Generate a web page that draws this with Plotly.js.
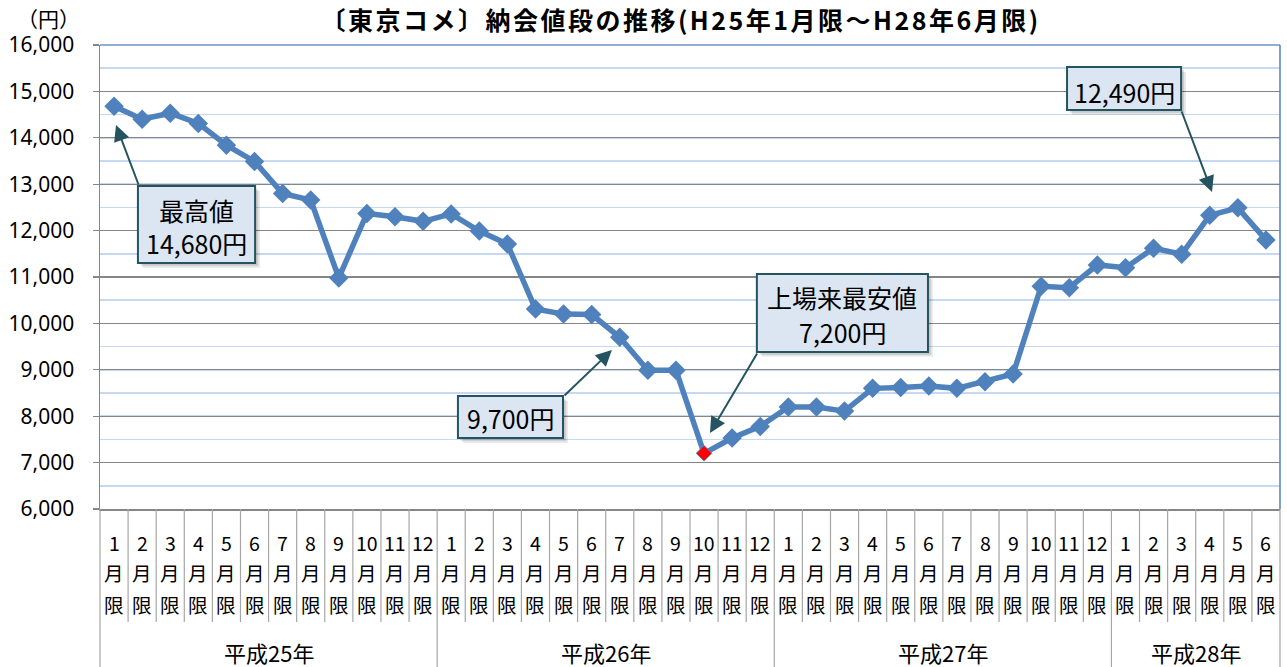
<!DOCTYPE html>
<html>
<head>
<meta charset="utf-8">
<script src="https://cdn.plot.ly/plotly-3.0.1.min.js"></script>
<style>
html,body{margin:0;padding:0;background:#fff;}
#chart{width:1287px;height:667px;}
.gtitle{letter-spacing:2.5px;}
</style>
</head>
<body>
<div id="chart"></div>
<script>
// ---------------- data ----------------
const years = ['平成25年', '平成26年', '平成27年', '平成28年'];
const monthsPerYear = [12, 12, 12, 6];
const monthLabels = ['1','2','3','4','5','6','7','8','9','10','11','12'];
const prices2013 = [14680, 14400, 14530, 14310, 13840, 13490, 12800, 12660, 10980, 12370, 12300, 12200];
const prices2014 = [12360, 11990, 11710, 10310, 10200, 10190, 9700, 8990, 8990, 7200, 7530, 7780];
const prices2015 = [8200, 8200, 8110, 8600, 8620, 8650, 8600, 8740, 8910, 10800, 10770, 11260];
const prices2016 = [11200, 11620, 11490, 12330, 12490, 11800];
const yTickValues = [6000, 7000, 8000, 9000, 10000, 11000, 12000, 13000, 14000, 15000, 16000];

// ---------------- build ----------------
const prices = [].concat(prices2013, prices2014, prices2015, prices2016);
const categories = [];
const catMonth = [];
years.forEach((y, yi) => {
  for (let m = 0; m < monthsPerYear[yi]; m++) {
    categories.push(y + monthLabels[m] + '月限');
    catMonth.push(monthLabels[m]);
  }
});
const N = categories.length;
const minIdx = prices.indexOf(Math.min(...prices));
const markerColors = prices.map((p, i) => i === minIdx ? '#ff0000' : '#4f81bd');
const markerSizes = prices.map((p, i) => i === minIdx ? 12 : 15);
const markerLineW = prices.map((p, i) => i === minIdx ? 1 : 0);

const trace = {
  type: 'scatter',
  mode: 'lines+markers',
  x: categories,
  y: prices,
  line: {color: '#4f81bd', width: 5.5},
  marker: {symbol: 'diamond', color: markerColors, size: markerSizes, opacity: 1,
           line: {color: '#4f81bd', width: markerLineW}},
  cliponaxis: false,
  hoverinfo: 'x+y'
};

const FONT = '"Noto Sans CJK JP", "Noto Sans", sans-serif';
const shapes = [];
const annotations = [];

// category separators below the axis
const yearBounds = [0];
monthsPerYear.forEach(c => yearBounds.push(yearBounds[yearBounds.length - 1] + c));
for (let b = 0; b <= N; b++) {
  const isYear = yearBounds.includes(b);
  const edge = (b === 0 || b === N);
  const xv = edge ? (b === 0 ? 0 : 1) : b - 0.5;
  shapes.push({type: 'line', xref: edge ? 'paper' : 'x', yref: 'paper',
    x0: xv, x1: xv, y0: 0, y1: isYear ? -0.345 : -0.2435,
    line: {color: '#a6a6a6', width: 1.2}});
}
// blue top / right border
shapes.push({type: 'line', xref: 'paper', yref: 'paper', x0: 0, x1: 1, y0: 1, y1: 1, line: {color: '#6f95c8', width: 1.5}});
shapes.push({type: 'line', xref: 'paper', yref: 'paper', x0: 1, x1: 1, y0: 0, y1: 1, line: {color: '#4f81bd', width: 1.5}});

// month labels (stacked) and year labels
const rowY = [-0.073, -0.137, -0.205];
for (let i = 0; i < N; i++) {
  [catMonth[i], '月', '限'].forEach((t, r) => {
    annotations.push({xref: 'x', yref: 'paper', x: i, y: rowY[r], text: t, showarrow: false,
      xanchor: 'center', yanchor: 'middle', font: {family: FONT, size: 19.5, color: '#000'}});
  });
}
years.forEach((y, yi) => {
  const center = (yearBounds[yi] + yearBounds[yi + 1] - 1) / 2;
  annotations.push({xref: 'x', yref: 'paper', x: center, y: -0.308, text: y, showarrow: false,
    xanchor: 'center', yanchor: 'middle', font: {family: FONT, size: 22, color: '#000'}});
});

// unit label
annotations.push({xref: 'paper', yref: 'paper', x: -0.044, y: 1.058, text: '（円）', showarrow: false,
  xanchor: 'center', yanchor: 'middle', font: {family: FONT, size: 21, color: '#000'}});

// callouts (layout positions)
const callouts = [
  {lines: ['最高値', '14,680円'], box: [0.85, 5.02, 11302, 12961], lineY: [12444, 11733], tail: [0.89, 12961], tip: [0.07, 14276]},
  {lines: ['9,700円'], box: [12.24, 15.98, 7530, 8435], lineY: [7961], tail: [15.98, 8414], tip: [17.72, 9427]},
  {lines: ['上場来最安値', '7,200円'], box: [22.88, 28.97, 9384, 11065], lineY: [10569, 9815], tail: [22.92, 9384], tip: [21.21, 7638]},
  {lines: ['12,490円'], box: [33.92, 37.98, 14599, 15526], lineY: [14987], tail: [37.98, 14599], tip: [39.08, 12832]}
];
callouts.forEach(c => {
  const [x0, x1, y0, y1] = c.box;
  shapes.push({type: 'rect', xref: 'x', yref: 'y', x0: x0 + 0.17, x1: x1 + 0.17, y0: y0 - 100, y1: y1 - 100,
    fillcolor: 'rgba(0,0,0,0.10)', line: {width: 0}});
  shapes.push({type: 'rect', xref: 'x', yref: 'y', x0: x0 + 0.10, x1: x1 + 0.10, y0: y0 - 60, y1: y1 - 60,
    fillcolor: 'rgba(0,0,0,0.12)', line: {width: 0}});
  shapes.push({type: 'rect', xref: 'x', yref: 'y', x0: x0, x1: x1, y0: y0, y1: y1,
    fillcolor: '#dce6f2', line: {color: '#24545f', width: 2}});
  const cx = (x0 + x1) / 2;
  c.lines.forEach((t, k) => {
    annotations.push({xref: 'x', yref: 'y', x: cx, y: c.lineY[k], text: t, showarrow: false,
      xanchor: 'center', yanchor: 'middle', font: {family: FONT, size: 25, color: '#000'}});
  });
  annotations.push({xref: 'x', yref: 'y', x: c.tip[0], y: c.tip[1], axref: 'x', ayref: 'y',
    ax: c.tail[0], ay: c.tail[1], text: '', showarrow: true, arrowhead: 2, arrowsize: 1.6,
    arrowwidth: 2, arrowcolor: '#24545f', standoff: 0, startstandoff: 0});
});

const layout = {
  width: 1287, height: 667,
  margin: {l: 100, r: 7, t: 45, b: 158},
  paper_bgcolor: '#fff', plot_bgcolor: '#fff',
  showlegend: false,
  title: {text: '〔東京コメ〕納会値段の推移(H25年1月限～H28年6月限)', xref: 'paper', x: 0.492, xanchor: 'center',
          yref: 'container', y: 0.9685, yanchor: 'middle',
          font: {family: FONT, size: 25, color: '#000', weight: 'bold'}},
  xaxis: {type: 'category', range: [-0.5, N - 0.5], showticklabels: false, ticks: '', showgrid: false,
          showline: true, linecolor: '#868686', linewidth: 1.5, zeroline: false, fixedrange: true},
  yaxis: {range: [6000, 16000], tickvals: yTickValues, tickformat: ',d', ticks: 'outside', ticklen: 6,
          tickcolor: '#868686', tickwidth: 1.3, ticklabelstandoff: 14,
          showline: true, linecolor: '#868686', linewidth: 1.5, zeroline: false,
          showgrid: true, gridcolor: '#868686', gridwidth: 1.3,
          minor: {dtick: 500, tick0: 6000, showgrid: true, gridcolor: '#c6d9f1', gridwidth: 1.5, ticks: ''},
          tickfont: {family: '"Noto Sans", sans-serif', size: 21, color: '#000'}, fixedrange: true},
  shapes: shapes,
  annotations: annotations
};

Plotly.newPlot('chart', [trace], layout, {displayModeBar: false, staticPlot: true});
</script>
</body>
</html>
